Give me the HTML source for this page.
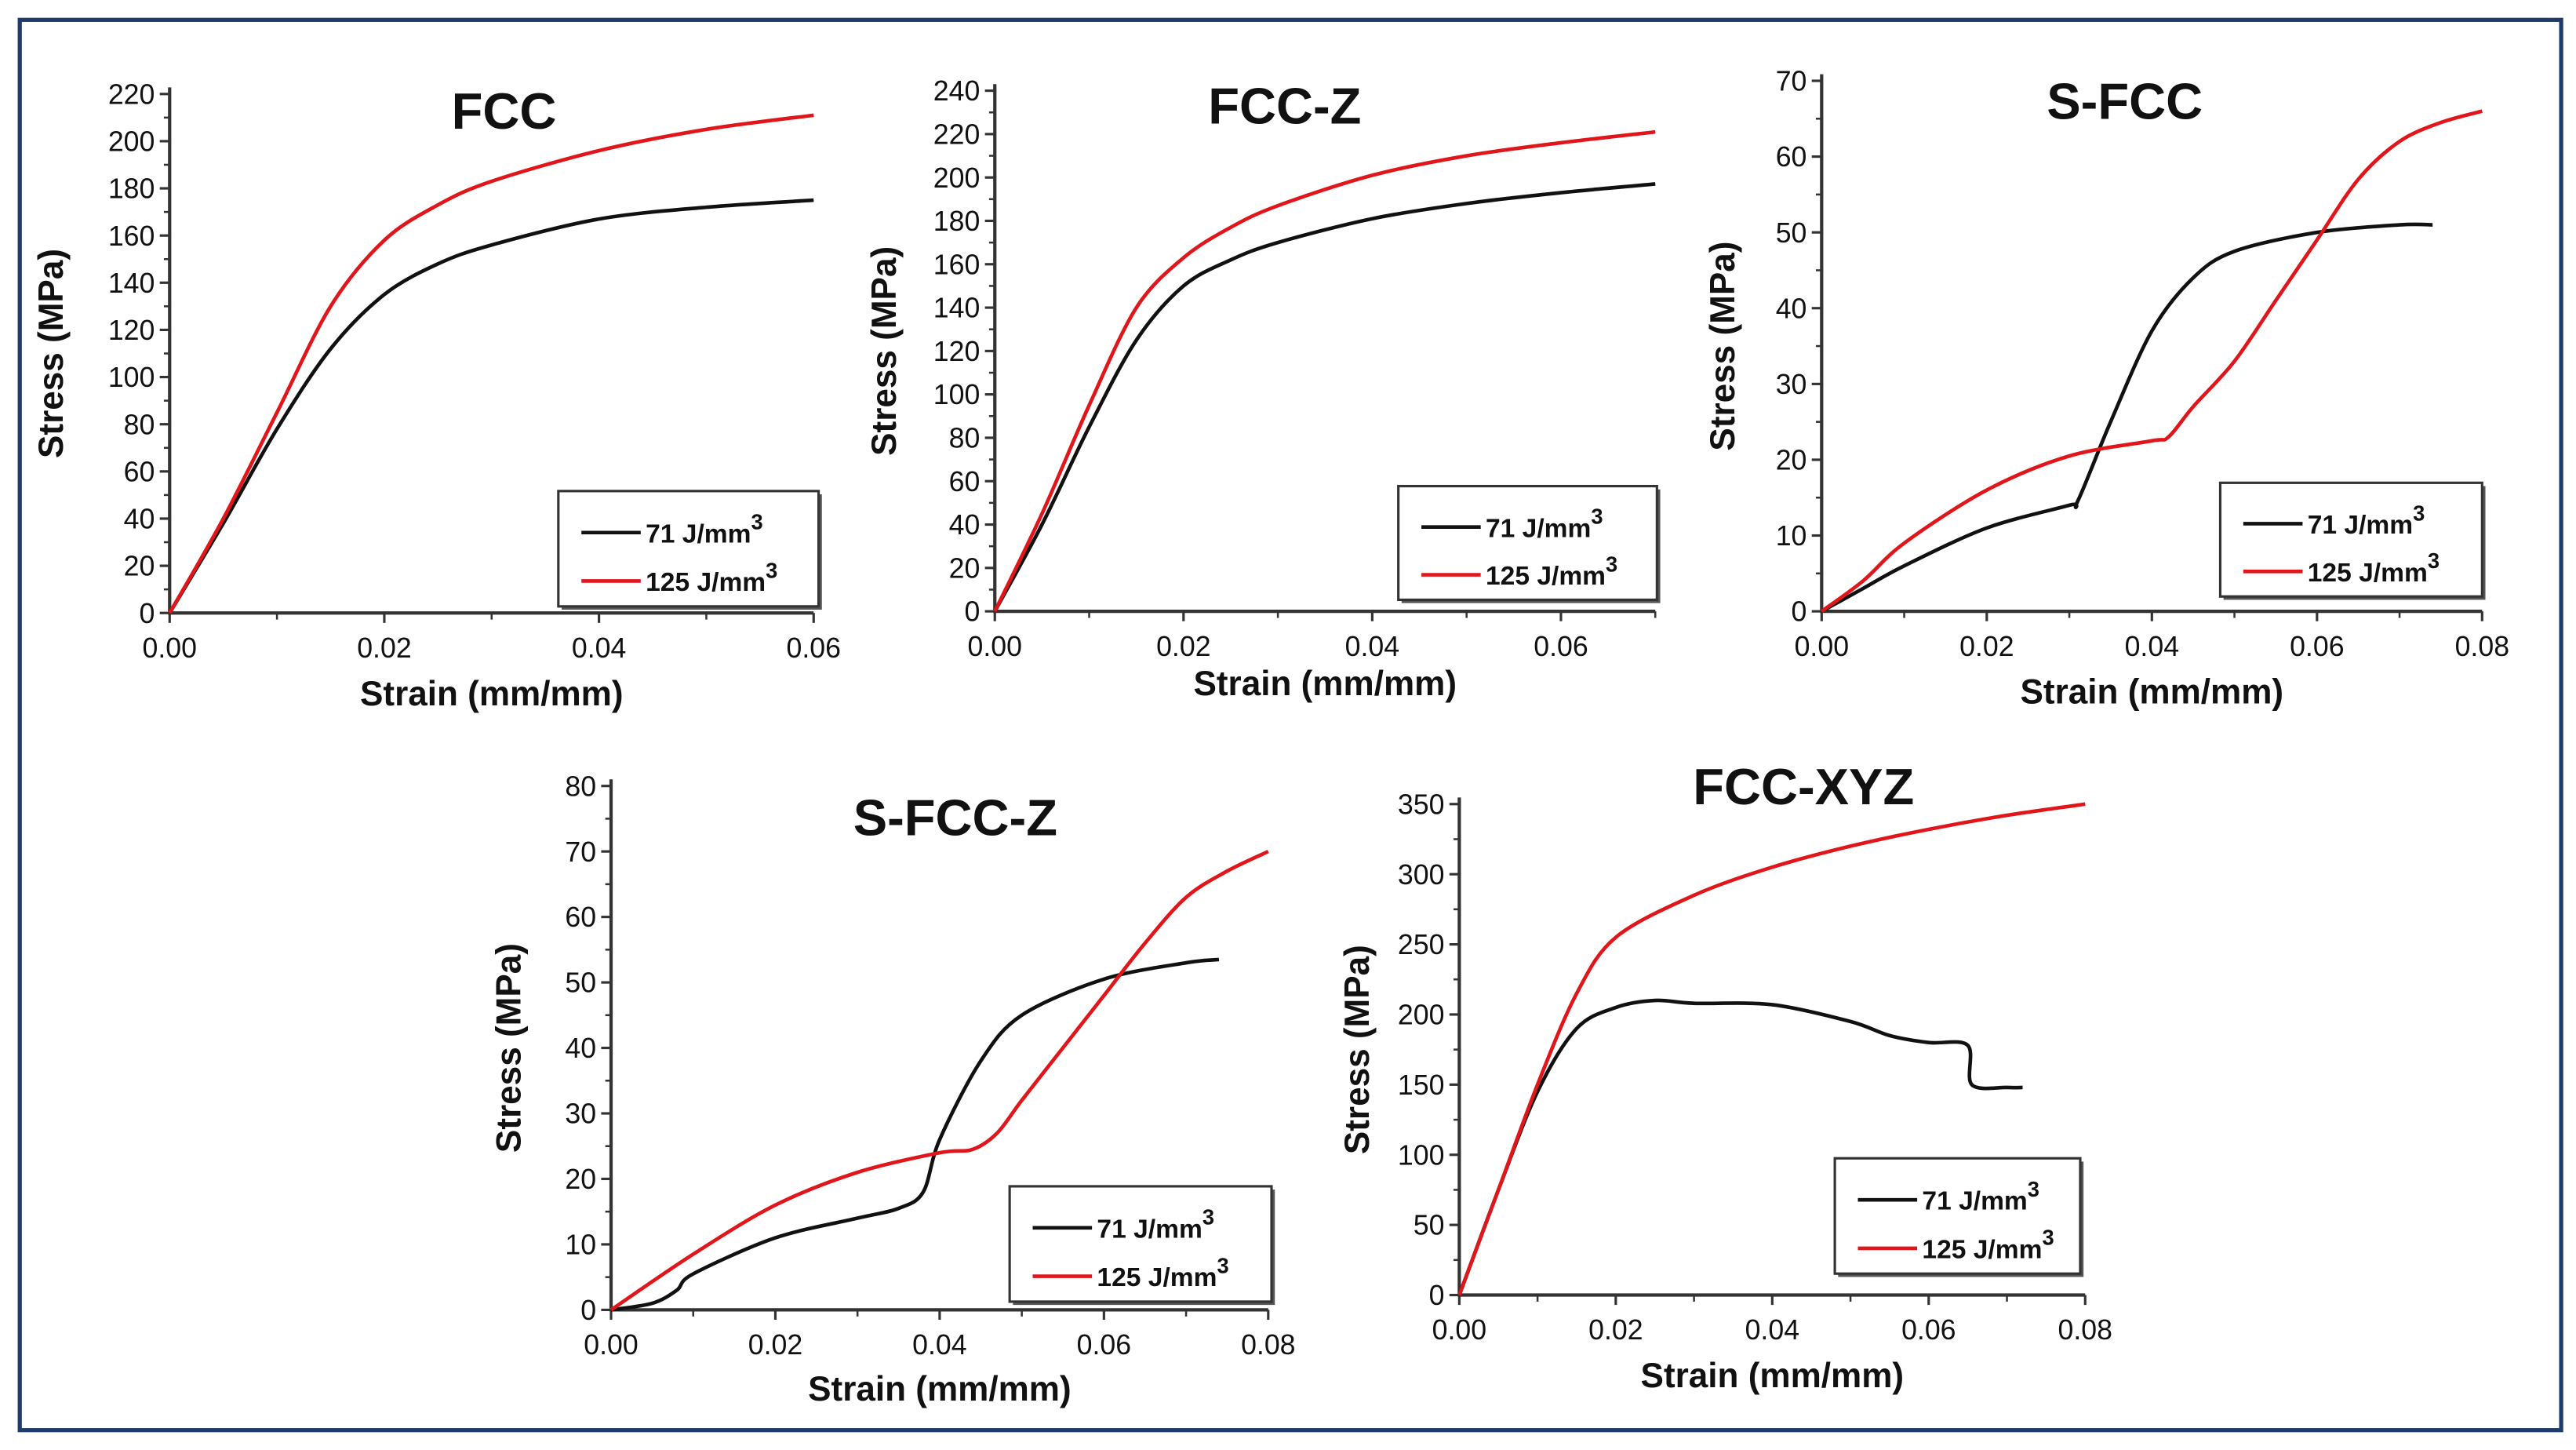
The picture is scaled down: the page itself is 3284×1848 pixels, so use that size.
<!DOCTYPE html>
<html><head><meta charset="utf-8"><style>
html,body{margin:0;padding:0;background:#fff;}
svg{display:block;}
text{font-family:"Liberation Sans",Arial,sans-serif;}
</style></head><body>
<svg id="fig" width="3284" height="1848" viewBox="0 0 1564 880" xmlns="http://www.w3.org/2000/svg">
<rect x="12" y="12" width="1543" height="856" fill="#fff" stroke="#1f3b6a" stroke-width="2.5"/>
</svg>
<script>
// ---- data arrays ----
const fccX71=[0,0.005,0.01,0.015,0.02,0.025,0.03,0.04,0.05,0.06];
const fccY71=[0,38,78,112,135,148,156,167,172,175];
const fccX125=[0,0.005,0.01,0.015,0.02,0.025,0.03,0.04,0.05,0.06];
const fccY125=[0,40,85,130,158,173,183,196,205,211];

const fcczX71=[0,0.005,0.01,0.015,0.02,0.025,0.03,0.04,0.05,0.06,0.07];
const fcczY71=[0,40,85,125,150,162,170,181,188,193,197];
const fcczX125=[0,0.005,0.01,0.015,0.02,0.025,0.03,0.04,0.05,0.06,0.07];
const fcczY125=[0,45,95,140,163,177,187,201,210,216,221];

const sfccX71=[0,0.005,0.01,0.02,0.03,0.031,0.035,0.04,0.045,0.05,0.06,0.07,0.074];
const sfccY71=[0,3,6,11,14,14.5,25,37,44,47.5,50,51,51];
const sfccX125=[0,0.005,0.01,0.02,0.03,0.04,0.042,0.045,0.05,0.055,0.06,0.065,0.07,0.075,0.08];
const sfccY125=[0,4,9,16,20.5,22.5,23,27,33,41,49,57,62,64.5,66];

const sfcczX71=[0,0.005,0.008,0.01,0.02,0.03,0.035,0.038,0.04,0.045,0.05,0.06,0.07,0.074];
const sfcczY71=[0,1,3,5.5,11,14,15.5,18,26,38,45,50.5,53,53.5];
const sfcczX125=[0,0.01,0.02,0.03,0.04,0.044,0.047,0.05,0.055,0.06,0.065,0.07,0.075,0.08];
const sfcczY125=[0,8.5,16,21,24,24.5,27,32,40,48,56,63,67,70];

const xyzX71=[0,0.005,0.01,0.015,0.02,0.025,0.03,0.04,0.05,0.055,0.06,0.065,0.0655,0.07,0.072];
const xyzY71=[0,75,145,190,205,210,208,207,195,185,180,178,150,148,148];
const xyzX125=[0,0.005,0.01,0.015,0.02,0.03,0.04,0.05,0.06,0.07,0.08];
const xyzY125=[0,75,150,215,255,285,305,320,332,342,350];

const legendLabels=["71 J/mm","125 J/mm"];

const panels=[
 {name:"fcc",title:"FCC",tx:306,ty:78,x0:103,x1:494,xmax:0.06,y0:372,y1:57,ymax:220,ystep:20,xticks:[0,0.02,0.04,0.06],xlabels:["0.00","0.02","0.04","0.06"],
  leg:[339,298,158,70],s:[[fccX71,fccY71],[fccX125,fccY125]],ylx:38,xly:428},
 {name:"fcc-z",title:"FCC-Z",tx:780,ty:75,x0:604,x1:1005,xmax:0.07,y0:371,y1:55,ymax:240,ystep:20,xticks:[0,0.02,0.04,0.06],xlabels:["0.00","0.02","0.04","0.06"],
  leg:[849,295,157,69],s:[[fcczX71,fcczY71],[fcczX125,fcczY125]],ylx:544,xly:422},
 {name:"s-fcc",title:"S-FCC",tx:1290,ty:72,x0:1106,x1:1507,xmax:0.08,y0:371,y1:49,ymax:70,ystep:10,xticks:[0,0.02,0.04,0.06,0.08],xlabels:["0.00","0.02","0.04","0.06","0.08"],
  leg:[1348,293,159,69],s:[[sfccX71,sfccY71],[sfccX125,sfccY125]],ylx:1053,xly:427},
 {name:"s-fcc-z",title:"S-FCC-Z",tx:580,ty:507,x0:371,x1:770,xmax:0.08,y0:795,y1:477,ymax:80,ystep:10,xticks:[0,0.02,0.04,0.06,0.08],xlabels:["0.00","0.02","0.04","0.06","0.08"],
  leg:[613,720,159,70],s:[[sfcczX71,sfcczY71],[sfcczX125,sfcczY125]],ylx:316,xly:850},
 {name:"fcc-xyz",title:"FCC-XYZ",tx:1095,ty:488,x0:886,x1:1266,xmax:0.08,y0:786,y1:488,ymax:350,ystep:50,xticks:[0,0.02,0.04,0.06,0.08],xlabels:["0.00","0.02","0.04","0.06","0.08"],
  leg:[1114,703,149,70],s:[[xyzX71,xyzY71],[xyzX125,xyzY125]],ylx:831,xly:842},
];
const NS="http://www.w3.org/2000/svg";
const svg=document.getElementById("fig");
function mk(tag,attrs,parent){const e=document.createElementNS(NS,tag);for(const k in attrs)e.setAttribute(k,attrs[k]);(parent||svg).appendChild(e);return e;}
function smoothPath(pts){
 let d=`M${pts[0][0].toFixed(2)},${pts[0][1].toFixed(2)}`;
 for(let i=0;i<pts.length-1;i++){
  const p0=pts[i-1]||pts[i],p1=pts[i],p2=pts[i+1],p3=pts[i+2]||p2;
  const t=0.16;
  const c1=[p1[0]+(p2[0]-p0[0])*t,p1[1]+(p2[1]-p0[1])*t];
  const c2=[p2[0]-(p3[0]-p1[0])*t,p2[1]-(p3[1]-p1[1])*t];
  d+=` C${c1[0].toFixed(2)},${c1[1].toFixed(2)} ${c2[0].toFixed(2)},${c2[1].toFixed(2)} ${p2[0].toFixed(2)},${p2[1].toFixed(2)}`;
 }
 return d;
}
const colors=["#111","#e0161b"];
panels.forEach(p=>{
 const g=mk("g",{});
 
 
 const sx=v=>p.x0+(v/p.xmax)*(p.x1-p.x0);
 const sy=v=>p.y0-(v/p.ymax)*(p.y0-p.y1);
 const ytop=sy(p.ymax)-4;
 const ax=mk("path",{d:`M${p.x0},${ytop} V${p.y0} H${p.x1}`,fill:"none",stroke:"#333",'stroke-width':2},g);
 
 
 for(let v=0;v<=p.ymax+1e-9;v+=p.ystep){
  const y=sy(v);
  mk("line",{x1:p.x0-6,x2:p.x0,y1:y,y2:y,stroke:"#333",'stroke-width':1.5},g);
  if(v+p.ystep/2<p.ymax) mk("line",{x1:p.x0-3.5,x2:p.x0,y1:sy(v+p.ystep/2),y2:sy(v+p.ystep/2),stroke:"#333",'stroke-width':1.2},g);
  const t=mk("text",{x:p.x0-9,y:y+6,'text-anchor':'end','font-size':17,fill:"#111"},g);
  t.textContent=String(v);
  
  
 }
 p.xticks.forEach((v,i)=>{
  const x=sx(v);
  mk("line",{x1:x,x2:x,y1:p.y0,y2:p.y0+6,stroke:"#333",'stroke-width':1.5},g);
  if(v+0.01<=p.xmax+1e-9) mk("line",{x1:sx(v+0.01),x2:sx(v+0.01),y1:p.y0,y2:p.y0+4,stroke:"#333",'stroke-width':1.2},g);
  const t=mk("text",{x:x,y:p.y0+27,'text-anchor':'middle','font-size':17,fill:"#111"},g);
  t.textContent=p.xlabels[i];
  
  
 });
 const xl=mk("text",{x:(p.x0+p.x1)/2,y:p.xly,'text-anchor':'middle','font-size':21,'font-weight':'bold',fill:"#111"},g);
 xl.textContent="Strain (mm/mm)";
 
 
 const ym=(p.y0+p.y1)/2;
 const yl=mk("text",{x:p.ylx,y:ym,'text-anchor':'middle','font-size':21,'font-weight':'bold',fill:"#111",transform:`rotate(-90 ${p.ylx} ${ym})`},g);
 yl.textContent="Stress (MPa)";
 
 
 const tt=mk("text",{x:p.tx,y:p.ty,'text-anchor':'middle','font-size':31,'font-weight':'bold',fill:"#111"},g);
 tt.textContent=p.title;
 
 
 p.s.forEach((s,k)=>{
  const pts=s[0].map((x,i)=>[sx(x),sy(s[1][i])]);
  const pl=mk("path",{d:smoothPath(pts),fill:"none",stroke:colors[k],'stroke-width':2.2,'stroke-linejoin':'round'},g);
  
  
 });
 const [lx,ly,lw,lh]=p.leg;
 mk("rect",{x:lx+2,y:ly+2,width:lw,height:lh,fill:"#555"},g);
 const lb=mk("rect",{x:lx,y:ly,width:lw,height:lh,fill:"#fff",stroke:"#333",'stroke-width':1.5},g);
 
 
 legendLabels.forEach((lab,k)=>{
  const yy=ly+lh*(k?0.78:0.36);
  mk("line",{x1:lx+14,x2:lx+50,y1:yy,y2:yy,stroke:colors[k],'stroke-width':2.2},g);
  const t=mk("text",{x:lx+53,y:yy+6,'font-size':16,'font-weight':'bold',fill:"#111"},g);
  t.textContent=lab;
  const sp=mk("tspan",{dy:-8,'font-size':13},t);
  sp.textContent="3";
  
  
 });
});
</script>
</body></html>
